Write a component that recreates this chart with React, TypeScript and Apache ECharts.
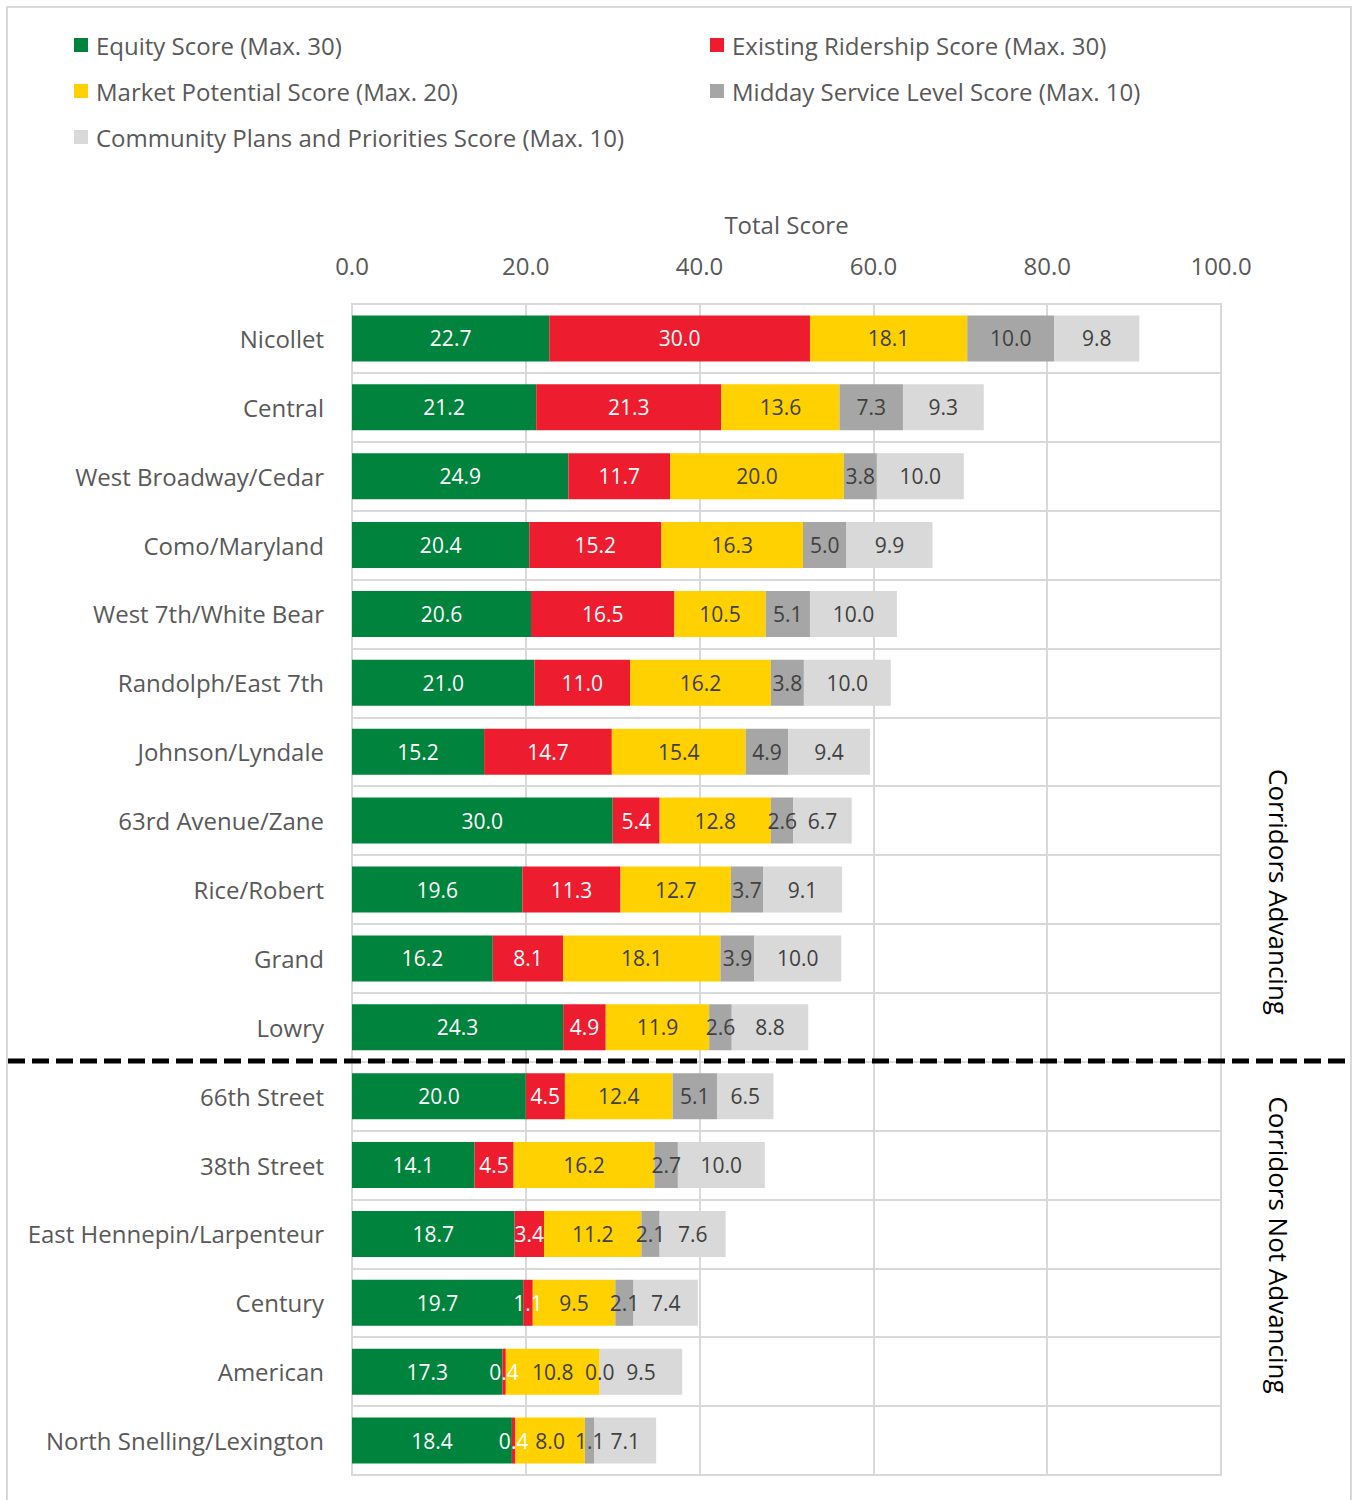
import React, { useEffect, useRef } from "react";
import * as echarts from "echarts";

const categories = [
  "Nicollet",
  "Central",
  "West Broadway/Cedar",
  "Como/Maryland",
  "West 7th/White Bear",
  "Randolph/East 7th",
  "Johnson/Lyndale",
  "63rd Avenue/Zane",
  "Rice/Robert",
  "Grand",
  "Lowry",
  "66th Street",
  "38th Street",
  "East Hennepin/Larpenteur",
  "Century",
  "American",
  "North Snelling/Lexington",
];

const equity = [22.7, 21.2, 24.9, 20.4, 20.6, 21.0, 15.2, 30.0, 19.6, 16.2, 24.3, 20.0, 14.1, 18.7, 19.7, 17.3, 18.4];
const ridership = [30.0, 21.3, 11.7, 15.2, 16.5, 11.0, 14.7, 5.4, 11.3, 8.1, 4.9, 4.5, 4.5, 3.4, 1.1, 0.4, 0.4];
const market = [18.1, 13.6, 20.0, 16.3, 10.5, 16.2, 15.4, 12.8, 12.7, 18.1, 11.9, 12.4, 16.2, 11.2, 9.5, 10.8, 8.0];
const midday = [10.0, 7.3, 3.8, 5.0, 5.1, 3.8, 4.9, 2.6, 3.7, 3.9, 2.6, 5.1, 2.7, 2.1, 2.1, 0.0, 1.1];
const community = [9.8, 9.3, 10.0, 9.9, 10.0, 10.0, 9.4, 6.7, 9.1, 10.0, 8.8, 6.5, 10.0, 7.6, 7.4, 9.5, 7.1];

const seriesNames = [
  "Equity Score (Max. 30)",
  "Existing Ridership Score (Max. 30)",
  "Market Potential Score (Max. 20)",
  "Midday Service Level Score (Max. 10)",
  "Community Plans and Priorities Score (Max. 10)",
];
const seriesData = [equity, ridership, market, midday, community];
const colors = ["#00843D", "#ED1C2E", "#FFD100", "#A6A6A6", "#D9D9D9"];
const labelColors = ["#FFFFFF", "#FFFFFF", "#404040", "#404040", "#404040"];
const xTicks = [0, 20, 40, 60, 80, 100];

const FONT = "'Open Sans', 'Noto Sans', sans-serif";

export default function App() {
  const ref = useRef<HTMLDivElement>(null);
  useEffect(() => {
    document.body.style.margin = "0";
    if (!ref.current) return;
    const chart = echarts.init(ref.current, null, { renderer: "svg" });
    const legendText = { fontSize: 24, color: "#595959", fontFamily: FONT, padding: [0, 0, 0, 3] };
    chart.setOption({
      animation: false,
      backgroundColor: "#FFFFFF",
      textStyle: { fontFamily: FONT },
      legend: [
        {
          orient: "vertical",
          left: 69,
          top: 28,
          itemWidth: 14,
          itemHeight: 14,
          itemGap: 22,
          icon: "rect",
          selectedMode: false,
          textStyle: legendText,
          data: [seriesNames[0], seriesNames[2], seriesNames[4]],
        },
        {
          orient: "vertical",
          left: 705,
          top: 28,
          itemWidth: 14,
          itemHeight: 14,
          itemGap: 22,
          icon: "rect",
          selectedMode: false,
          textStyle: legendText,
          data: [seriesNames[1], seriesNames[3]],
        },
      ],
      grid: { left: 352, right: 132, top: 304, bottom: 25, show: true, borderColor: "#D9D9D9", borderWidth: 2 },
      xAxis: {
        type: "value",
        position: "top",
        min: xTicks[0],
        max: xTicks[xTicks.length - 1],
        interval: xTicks[1] - xTicks[0],
        name: "Total Score",
        nameLocation: "middle",
        nameGap: 68,
        nameTextStyle: { fontSize: 24, color: "#595959", fontFamily: FONT },
        axisLine: { show: false },
        axisTick: { show: false },
        axisLabel: {
          fontSize: 24,
          color: "#595959",
          margin: 27,
          fontFamily: FONT,
          formatter: (v: number) => v.toFixed(1),
        },
        splitLine: { show: true, lineStyle: { color: "#D9D9D9", width: 2 } },
      },
      yAxis: {
        type: "category",
        inverse: true,
        data: categories,
        axisLine: { show: false },
        axisTick: { show: false },
        axisLabel: { fontSize: 24, color: "#595959", margin: 28, fontFamily: FONT },
        splitLine: { show: true, lineStyle: { color: "#D9D9D9", width: 2 } },
      },
      series: seriesNames.map((name, i) => ({
        name,
        type: "bar",
        stack: "total",
        barWidth: 46,
        data: seriesData[i],
        itemStyle: { color: colors[i] },
        label: {
          show: true,
          position: "inside",
          fontSize: 21,
          color: labelColors[i],
          fontFamily: FONT,
          formatter: (p: any) => Number(p.value).toFixed(1),
        },
      })),
      graphic: [
        {
          type: "rect",
          silent: true,
          shape: { x: 7, y: 7, width: 1344, height: 1520 },
          style: { fill: "none", stroke: "#D9D9D9", lineWidth: 2 },
        },
        {
          type: "line",
          silent: true,
          shape: { x1: 8, y1: 1061, x2: 1348, y2: 1061 },
          style: { stroke: "#000000", lineWidth: 5, lineDash: [17, 7] },
          z: 100,
        },
        {
          type: "text",
          x: 1279,
          y: 892,
          rotation: -Math.PI / 2,
          style: {
            text: "Corridors Advancing",
            fontSize: 26,
            fill: "#000000",
            fontFamily: FONT,
            align: "center",
            verticalAlign: "middle",
          },
        },
        {
          type: "text",
          x: 1279,
          y: 1245,
          rotation: -Math.PI / 2,
          style: {
            text: "Corridors Not Advancing",
            fontSize: 26,
            fill: "#000000",
            fontFamily: FONT,
            align: "center",
            verticalAlign: "middle",
          },
        },
      ],
    });
    return () => chart.dispose();
  }, []);
  return <div ref={ref} style={{ width: 1353, height: 1500 }} />;
}
